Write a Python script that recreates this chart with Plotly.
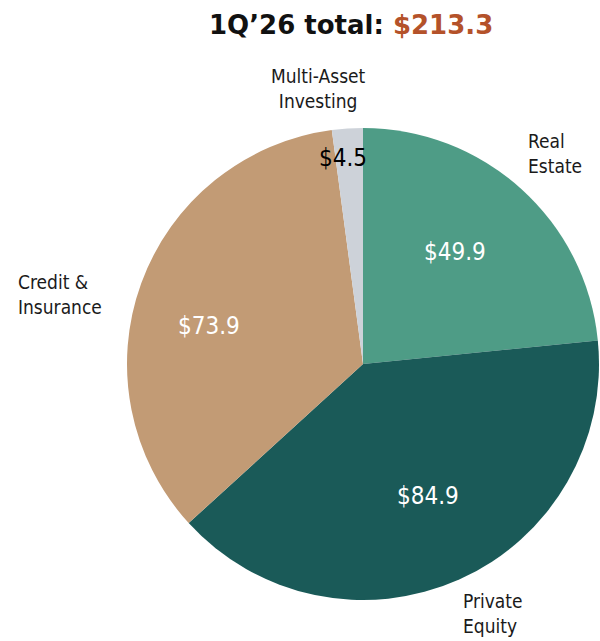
import plotly.graph_objects as go

W, H = 600, 641

segments = ["Real Estate", "Private Equity", "Credit & Insurance", "Multi-Asset Investing"]
values = [49.9, 84.9, 73.9, 4.5]
total_label = "$213.3"
colors = ["#4E9C86", "#1A5A58", "#C29B75", "#CDD2D9"]
text_colors = ["white", "white", "white", "black"]

# outside category labels (text, x px, y px, anchor)
outside_labels = [
    ("Real<br>Estate", 526, 153, "left"),
    ("Private<br>Equity", 461, 613, "left"),
    ("Credit &<br>Insurance", 16, 294, "left"),
    ("Multi-Asset<br>Investing", 318, 88, "center"),
]
# where each value label sits (px), same order as segments
value_label_pos = [(455, 252), (428, 496), (209, 326), (343, 158)]

FONT = "DejaVu Sans Condensed, DejaVu Sans"


def px_x(x):
    return x / W


def px_y(y):
    return 1 - y / H


fig = go.Figure(
    go.Pie(
        labels=segments,
        values=values,
        sort=False,
        direction="clockwise",
        rotation=0,
        marker=dict(colors=colors, line=dict(width=0)),
        textinfo="none",
        domain=dict(x=[px_x(127), px_x(599)], y=[px_y(600), px_y(128)]),
        hoverinfo="label+value",
        showlegend=False,
    )
)

for text, x, y, anchor in outside_labels:
    fig.add_annotation(
        text=text, x=px_x(x), y=px_y(y), xref="paper", yref="paper",
        xanchor=anchor, yanchor="middle", align=anchor, showarrow=False,
        font=dict(family=FONT, size=19, color="#1a1a1a"),
    )

for val, (x, y), col in zip(values, value_label_pos, text_colors):
    fig.add_annotation(
        text="$%.1f" % val, x=px_x(x), y=px_y(y), xref="paper", yref="paper",
        xanchor="center", yanchor="middle", showarrow=False,
        font=dict(family=FONT, size=24, color=col),
    )

fig.add_annotation(
    text="<b>1Q’26 total: <span style='color:#B4522A'>%s</span></b>" % total_label,
    x=px_x(351), y=px_y(25), xref="paper", yref="paper",
    xanchor="center", yanchor="middle", showarrow=False,
    font=dict(family="DejaVu Sans", size=26, color="#111111"),
)

fig.update_layout(
    width=W, height=H,
    margin=dict(l=0, r=0, t=0, b=0),
    paper_bgcolor="white",
    plot_bgcolor="white",
)

fig.write_html(
    "out.html",
    config={"displayModeBar": False},
    post_script="document.body.style.margin='0';",
)
